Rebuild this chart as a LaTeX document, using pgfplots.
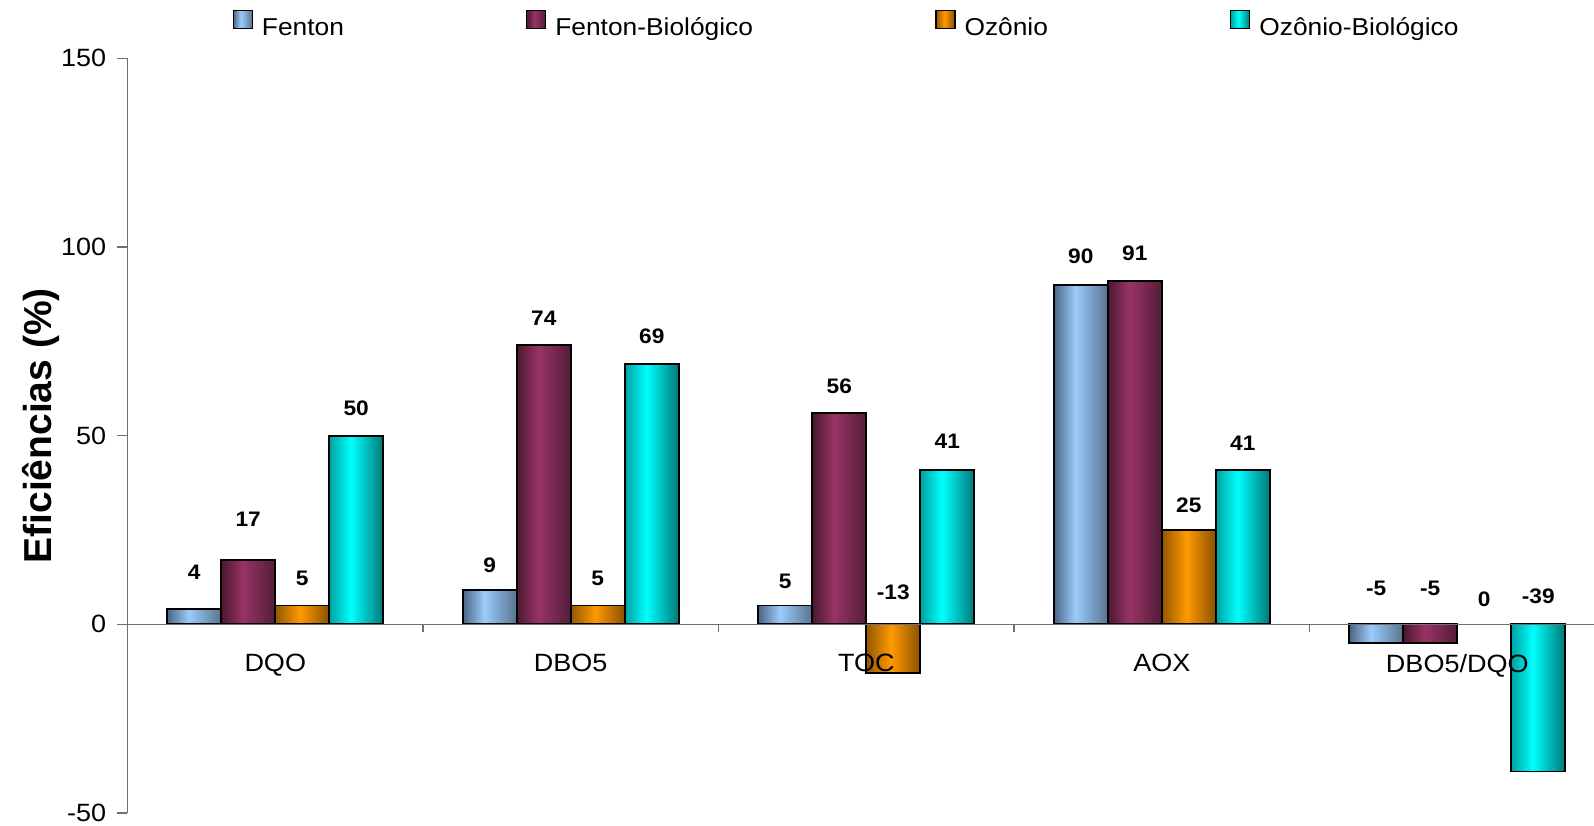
\documentclass[border=0pt]{standalone}
\usepackage{pgfplots}
\pgfplotsset{compat=1.18}
\usepackage{pgfplotstable}
\usepackage{fontspec}
\setmainfont{Liberation Sans}[FakeStretch=1.08]
\newfontfamily\titlesans{Liberation Sans}

% bar colours: left edge, highlight, right edge
\definecolor{fenE}{HTML}{4A6584}\definecolor{fenL}{HTML}{9CCBFB}\definecolor{fenR}{HTML}{58738F}
\definecolor{fbE}{HTML}{4A1830}\definecolor{fbL}{HTML}{993366}\definecolor{fbR}{HTML}{521D38}
\definecolor{ozE}{HTML}{935700}\definecolor{ozL}{HTML}{FF9900}\definecolor{ozR}{HTML}{8A5000}
\definecolor{obE}{HTML}{00A0A0}\definecolor{obL}{HTML}{00FFFF}\definecolor{obR}{HTML}{007878}
\definecolor{axgray}{HTML}{707070}

% cylinder-like horizontal gradients (rotated by shading angle=90)
\pgfdeclareverticalshading{shFen}{100bp}{color(0bp)=(fenR); color(25bp)=(fenR); color(55bp)=(fenL); color(75bp)=(fenE); color(100bp)=(fenE)}
\pgfdeclareverticalshading{shFB}{100bp}{color(0bp)=(fbR); color(25bp)=(fbR); color(55bp)=(fbL); color(75bp)=(fbE); color(100bp)=(fbE)}
\pgfdeclareverticalshading{shOz}{100bp}{color(0bp)=(ozR); color(25bp)=(ozR); color(52bp)=(ozL); color(75bp)=(ozE); color(100bp)=(ozE)}
\pgfdeclareverticalshading{shOB}{100bp}{color(0bp)=(obR); color(25bp)=(obR); color(55bp)=(obL); color(75bp)=(obE); color(100bp)=(obE)}

% x: category index, v: efficiency (%), ly: height of the value label
\pgfplotstableread{
x  v    ly
0  4    11.9
1  9    13.5
2  5    9.3
3  90   95.4
4  -5   7.4
}\fenton
\pgfplotstableread{
x  v    ly
0  17   25.7
1  74   79.0
2  56   61.0
3  91   96.2
4  -5   7.4
}\fentonbio
\pgfplotstableread{
x  v    ly
0  5    10.1
1  5    10.1
2  -13  6.4
3  25   29.4
4  0    4.5
}\ozonio
\pgfplotstableread{
x  v    ly
0  50   55.1
1  69   74.2
2  41   46.4
3  41   45.9
4  -39  5.3
}\ozoniobio

\pgfplotsset{
  barstyle/.style={ybar, bar width=27pt, draw=black, line width=0.9pt, shading angle=90, forget plot,
    y filter/.expression={y==0 ? nan : y}},
  vallabel/.style={draw=none, mark=none, forget plot,
    nodes near coords, point meta=explicit symbolic,
    nodes near coords style={anchor=south, inner sep=0pt,
      font=\bfseries\fontsize{10.5}{12}\selectfont, xshift=#1}},
}

\begin{document}
\begin{tikzpicture}
\begin{axis}[
  name=ax,
  scale only axis,
  width=733.25pt, height=377.35pt,
  xmin=-0.5, xmax=4.4628,
  ymin=-50, ymax=150,
  axis x line*=middle,
  axis y line*=left,
  axis line style={axgray, line width=0.7pt},
  axis on top,
  tick align=outside,
  major tick length=5pt,
  minor tick length=4pt,
  xtick={0,1,2,3,4},
  xticklabels={DQO,DBO5,TOC,AOX,DBO5/DQO},
  minor xtick={0.5,1.5,2.5,3.5},
  major x tick style={draw=none},
  minor x tick style={axgray, line width=0.7pt},
  ytick={-50,0,50,100,150},
  y tick style={axgray, line width=0.7pt},
  /pgf/number format/assume math mode=true,
  ticklabel style={font=\fontsize{12.5}{15}\selectfont},
  xticklabel style={anchor=north, inner sep=0pt, yshift=-9.75pt},
  yticklabel style={anchor=east, inner sep=0pt, xshift=-5.5pt},
  ylabel={Eficiências (\%)},
  ylabel style={at={(rel axis cs:-0.0515,0.513)}, anchor=base,
    font=\titlesans\bfseries\fontsize{19.5}{23}\selectfont},
  legend columns=4,
  legend style={at={(rel axis cs:0,1)}, anchor=west, xshift=52.5pt, yshift=17pt,
    draw=none, fill=none, inner sep=0pt, outer sep=0pt,
    nodes={inner sep=0pt},
    font=\fontsize{12.2}{14}\selectfont,
    /tikz/every odd column/.append style={column sep=4.5pt},
    /tikz/every even column/.append style={column sep=91pt}},
  legend image code/.code={\draw[#1, line width=0.7pt] (0pt,0pt) rectangle (9.5pt,9pt);},
]
% legend entries
\addlegendimage{draw=black, shading=shFen, shading angle=90}
\addlegendentry{Fenton}
\addlegendimage{draw=black, shading=shFB, shading angle=90}
\addlegendentry{Fenton-Biológico}
\addlegendimage{draw=black, shading=shOz, shading angle=90}
\addlegendentry{Ozônio}
\addlegendimage{draw=black, shading=shOB, shading angle=90}
\addlegendentry{Ozônio-Biológico}

% one plot per bar, so that every bar gets its own gradient
\pgfplotsinvokeforeach{0,...,4}{
  \addplot[barstyle, bar shift=-40.5pt, shading=shFen]
    table[x=x, y=v, restrict expr to domain={\thisrow{x}-#1}{-0.2:0.2}]{\fenton};
  \addplot[barstyle, bar shift=-13.5pt, shading=shFB]
    table[x=x, y=v, restrict expr to domain={\thisrow{x}-#1}{-0.2:0.2}]{\fentonbio};
  \addplot[barstyle, bar shift=13.5pt, shading=shOz]
    table[x=x, y=v, restrict expr to domain={\thisrow{x}-#1}{-0.2:0.2}]{\ozonio};
  \addplot[barstyle, bar shift=40.5pt, shading=shOB]
    table[x=x, y=v, restrict expr to domain={\thisrow{x}-#1}{-0.2:0.2}]{\ozoniobio};
}

\addplot[vallabel=-40.5pt] table[x=x, y=ly, meta=v]{\fenton};
\addplot[vallabel=-13.5pt] table[x=x, y=ly, meta=v]{\fentonbio};
\addplot[vallabel=13.5pt] table[x=x, y=ly, meta=v]{\ozonio};
\addplot[vallabel=40.5pt] table[x=x, y=ly, meta=v]{\ozoniobio};
\end{axis}
\pgfresetboundingbox
\path[use as bounding box] ([xshift=-63.75pt, yshift=-6pt]ax.south west) rectangle ([yshift=29.15pt]ax.north east);
\end{tikzpicture}
\end{document}
